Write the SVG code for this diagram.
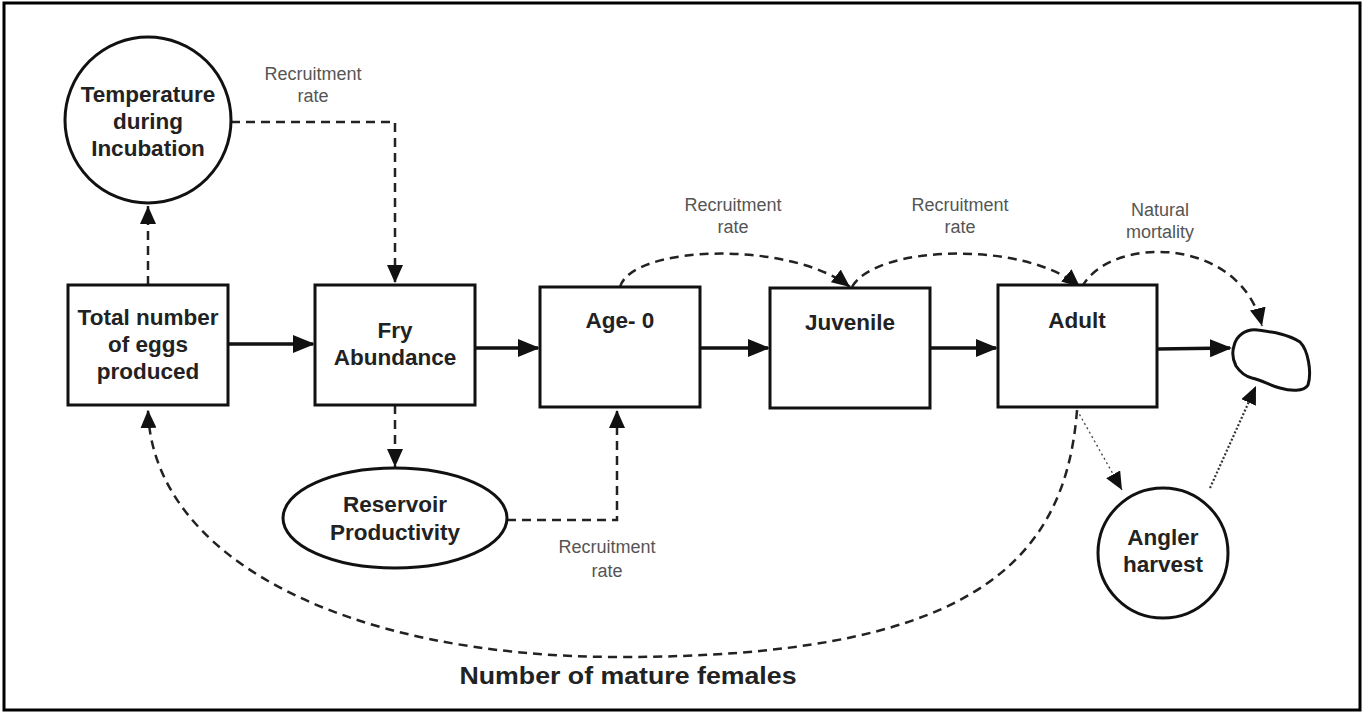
<svg xmlns="http://www.w3.org/2000/svg" width="1364" height="715" viewBox="0 0 1364 715">
<style>
.node{fill:#fff;stroke:#111;stroke-width:3}
.t{font-family:"Liberation Sans",Arial,sans-serif;font-weight:bold;font-size:22.5px;fill:#222;text-anchor:middle}
.lbl{font-family:"Liberation Sans",Arial,sans-serif;font-size:18px;fill:#555;text-anchor:middle}
.solid{fill:none;stroke:#111;stroke-width:3.5}
.dash{fill:none;stroke:#222;stroke-width:2.5;stroke-dasharray:9 6}
.dot1{fill:none;stroke:#444;stroke-width:1.3;stroke-dasharray:2 3}
.dot2{fill:none;stroke:#333;stroke-width:2.2;stroke-dasharray:2 2}
</style>
<defs>
<marker id="ah" markerUnits="userSpaceOnUse" markerWidth="22" markerHeight="18" refX="20" refY="9" orient="auto"><path d="M0,0 L22,9 L0,18 z" fill="#111"/></marker>
<marker id="ad" markerUnits="userSpaceOnUse" markerWidth="18" markerHeight="16" refX="18" refY="8" orient="auto"><path d="M0,0 L18,8 L0,16 z" fill="#111"/></marker>
</defs>
<rect x="0" y="0" width="1364" height="715" fill="#fff"/>
<rect x="4" y="3" width="1356" height="707" fill="none" stroke="#000" stroke-width="3"/>

<g id="connectors">
<path class="solid" d="M228,344 L313,344" marker-end="url(#ah)"/>
<path class="solid" d="M475,348 L538,348" marker-end="url(#ah)"/>
<path class="solid" d="M700,348 L768,348" marker-end="url(#ah)"/>
<path class="solid" d="M930,348 L996,348" marker-end="url(#ah)"/>
<path class="solid" d="M1157,349 L1230,348" marker-end="url(#ah)"/>
<path class="dash" d="M148,285 L148,206" marker-end="url(#ad)"/>
<path class="dash" d="M231,122 L395,122 L395,283" marker-end="url(#ad)"/>
<path class="dash" d="M395,405 L395,467" marker-end="url(#ad)"/>
<path class="dash" d="M507,520 L617,520 L617,410" marker-end="url(#ad)"/>
<path class="dash" d="M620,287 C632,245 790,240 850,287" marker-end="url(#ad)"/>
<path class="dash" d="M852,287 C875,245 1025,240 1080,287" marker-end="url(#ad)"/>
<path class="dash" d="M1082,287 C1110,235 1240,235 1262,326" marker-end="url(#ad)"/>
<path class="dash" d="M1077,410 C1065,570 960,657 620,657 C340,657 152,555 148,410" marker-end="url(#ad)"/>
<path class="dot1" d="M1077,410 L1122,490" marker-end="url(#ad)"/>
<path class="dot2" d="M1210,488 L1256,386" marker-end="url(#ad)"/>
<text class="lbl" x="313" y="80">Recruitment</text>
<text class="lbl" x="313" y="102">rate</text>
<text class="lbl" x="733" y="211">Recruitment</text>
<text class="lbl" x="733" y="233">rate</text>
<text class="lbl" x="960" y="211">Recruitment</text>
<text class="lbl" x="960" y="233">rate</text>
<text class="lbl" x="1160" y="216">Natural</text>
<text class="lbl" x="1160" y="238">mortality</text>
<text class="lbl" x="607" y="553">Recruitment</text>
<text class="lbl" x="607" y="577">rate</text>
<text class="t" x="628" y="684" style="font-size:24px" textLength="337" lengthAdjust="spacingAndGlyphs">Number of mature females</text>
</g>

<g id="temperature">
<circle class="node" cx="148" cy="120" r="83"/>
<text class="t" x="148" y="102">Temperature</text>
<text class="t" x="148" y="129">during</text>
<text class="t" x="148" y="156">Incubation</text>
</g>
<g id="eggs">
<rect class="node" x="68" y="285" width="160" height="120"/>
<text class="t" x="148" y="325">Total number</text>
<text class="t" x="148" y="352">of eggs</text>
<text class="t" x="148" y="379">produced</text>
</g>
<g id="fry">
<rect class="node" x="315" y="285" width="160" height="120"/>
<text class="t" x="395" y="338">Fry</text>
<text class="t" x="395" y="365">Abundance</text>
</g>
<g id="age0">
<rect class="node" x="540" y="287" width="160" height="120"/>
<text class="t" x="620" y="328">Age- 0</text>
</g>
<g id="juvenile">
<rect class="node" x="770" y="288" width="160" height="120"/>
<text class="t" x="850" y="330">Juvenile</text>
</g>
<g id="adult">
<rect class="node" x="998" y="285" width="159" height="122"/>
<text class="t" x="1077" y="328">Adult</text>
</g>
<g id="reservoir">
<ellipse class="node" cx="395" cy="518" rx="112" ry="50"/>
<text class="t" x="395" y="512">Reservoir</text>
<text class="t" x="395" y="540">Productivity</text>
</g>
<g id="angler">
<circle class="node" cx="1163" cy="553" r="65"/>
<text class="t" x="1163" y="545">Angler</text>
<text class="t" x="1163" y="572">harvest</text>
</g>
<g id="death">
<path class="node" d="M1234,346 C1236,336 1246,328 1258,330 C1272,332 1288,334 1300,342 C1308,350 1312,372 1308,385 C1304,392 1290,391 1280,388 C1268,385 1262,380 1252,378 C1244,376 1240,372 1236,366 C1232,358 1232,352 1234,346 Z"/>
</g>
</svg>
